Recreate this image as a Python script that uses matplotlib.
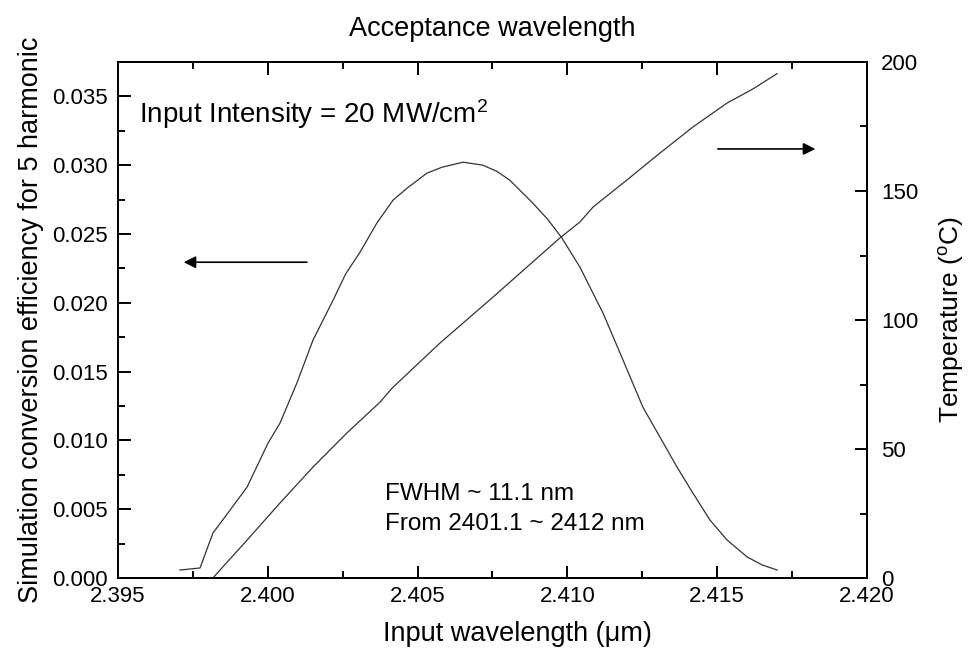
import matplotlib
matplotlib.use("Agg")
import matplotlib.pyplot as plt
from matplotlib.ticker import MultipleLocator, FormatStrFormatter

plt.rcParams['font.family'] = ['Liberation Sans', 'DejaVu Sans']
plt.rcParams['mathtext.fontset'] = 'custom'
plt.rcParams['mathtext.rm'] = 'Liberation Sans'
plt.rcParams['mathtext.it'] = 'Liberation Sans'
plt.rcParams['xtick.labelsize'] = 16
plt.rcParams['ytick.labelsize'] = 16

# Efficiency curve (left axis)
wl_eff = [2.39707, 2.39774, 2.39817, 2.39857, 2.39931, 2.40001, 2.40041, 2.40097,
          2.40151, 2.40218, 2.40260, 2.40308, 2.40364, 2.40418, 2.40465, 2.40531,
          2.40581, 2.40652, 2.40718, 2.40765, 2.40808, 2.40885, 2.40935, 2.40982,
          2.41042, 2.41119, 2.41176, 2.41252, 2.41309, 2.41366, 2.41419, 2.41476,
          2.41533, 2.41600, 2.41650, 2.41700]
eff = [0.00058, 0.00073, 0.00327, 0.00443, 0.00661, 0.00981, 0.01126, 0.01416,
       0.01729, 0.02019, 0.02210, 0.02368, 0.02579, 0.02746, 0.02833, 0.02942,
       0.02985, 0.03022, 0.03000, 0.02955, 0.02891, 0.02724, 0.02605, 0.02470,
       0.02259, 0.01925, 0.01634, 0.01242, 0.01024, 0.00806, 0.00617, 0.00421,
       0.00276, 0.00153, 0.00095, 0.00058]

# Temperature line (right axis)
wl_temp = [2.39780, 2.39817, 2.39850, 2.39931, 2.40041, 2.40151, 2.40264, 2.40375,
           2.40415, 2.40575, 2.40752, 2.40975, 2.41042, 2.41086, 2.41199, 2.41309,
           2.41419, 2.41533, 2.41620, 2.41700]
temp = [0.0, 0.0, 4.3, 14.7, 29.1, 43.0, 56.2, 68.2,
        73.6, 91.1, 108.9, 131.8, 138.0, 143.8, 154.3, 164.7,
        174.8, 184.1, 189.6, 195.5]

fig = plt.figure(figsize=(9.7, 6.54), dpi=100)
ax = fig.add_axes([0.1216, 0.1162, 0.7722, 0.789])
ax2 = ax.twinx()

ax.plot(wl_eff, eff, color='#333333', lw=0.9)
ax2.plot(wl_temp, temp, color='#333333', lw=0.9)

ax.set_xlim(2.395, 2.420)
ax.set_ylim(0, 0.0375)
ax2.set_ylim(0, 200)

ax.xaxis.set_major_locator(MultipleLocator(0.005))
ax.xaxis.set_minor_locator(MultipleLocator(0.0025))
ax.yaxis.set_major_locator(MultipleLocator(0.005))
ax.yaxis.set_minor_locator(MultipleLocator(0.0025))
ax2.yaxis.set_major_locator(MultipleLocator(50))
ax2.yaxis.set_minor_locator(MultipleLocator(25))
ax.xaxis.set_major_formatter(FormatStrFormatter('%.3f'))
ax.yaxis.set_major_formatter(FormatStrFormatter('%.3f'))

for a in (ax, ax2):
    for s in a.spines.values():
        s.set_linewidth(1.4)
ax.tick_params(which='both', direction='in', top=True, right=False, width=1.4)
ax.tick_params(which='major', length=9, labelsize=16)
ax.tick_params(which='minor', length=5)
ax.tick_params(axis='x', which='major', pad=6)
ax.tick_params(axis='y', which='major', pad=7)
ax2.tick_params(which='both', direction='in', left=False, right=True, width=1.4)
ax2.tick_params(which='major', length=9, labelsize=16, pad=10)
ax2.tick_params(which='minor', length=5)

ax.set_xlabel('Input wavelength (\u03bcm)', fontsize=19.5)
ax.xaxis.set_label_coords(0.533, -0.083)
ax.set_ylabel('Simulation conversion efficiency for 5 harmonic', fontsize=19.5, labelpad=6)
ax2.set_ylabel(r'Temperature ($^\mathrm{o}$C)', fontsize=19)
ax2.yaxis.set_label_coords(1.094, 0.5)
ax.set_title('Acceptance wavelength', fontsize=19.5, pad=19)

ax.text(2.3957, 0.0337, r'Input Intensity = 20 MW/cm$^\mathrm{2}$', fontsize=20, va='center')
ax.text(2.4039, 0.0061, 'FWHM ~ 11.1 nm', fontsize=17.5, va='center')
ax.text(2.4039, 0.0039, 'From 2401.1 ~ 2412 nm', fontsize=17.5, va='center')

# arrows pointing to each curve's axis
ax.annotate('', xy=(2.3971, 0.02295), xytext=(2.4014, 0.02295),
            arrowprops=dict(arrowstyle='-|>', color='black', lw=1.2, mutation_scale=18))
ax2.annotate('', xy=(2.41837, 166.3), xytext=(2.41493, 166.3),
             arrowprops=dict(arrowstyle='-|>', color='black', lw=1.2, mutation_scale=18))

fig.savefig('out.png', dpi=100)
